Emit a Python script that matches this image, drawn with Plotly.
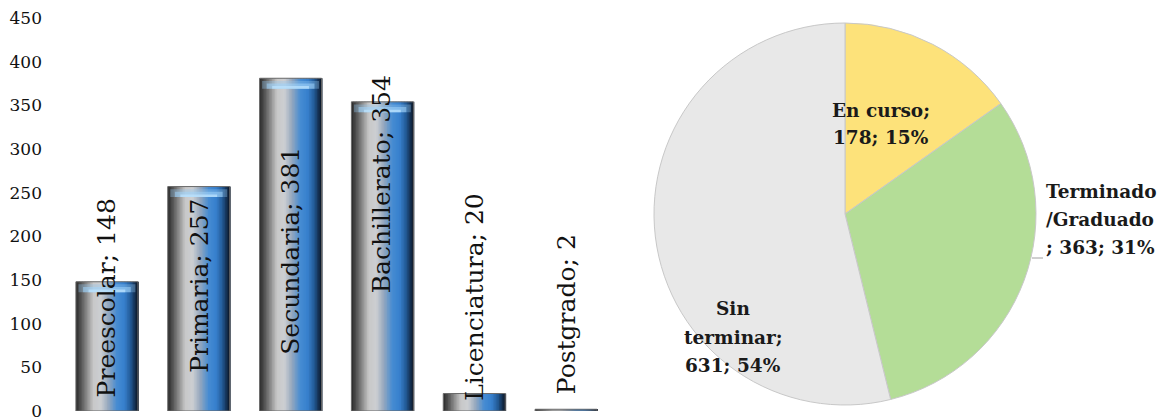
import plotly.graph_objects as go

# ---- data ----
niveles = ["Preescolar", "Primaria", "Secundaria", "Bachillerato", "Licenciatura", "Postgrado"]
alumnos = [148, 257, 381, 354, 20, 2]

estado = ["En curso", "Terminado/Graduado", "Sin terminar"]
estado_n = [178, 363, 631]

y_ticks = [0, 50, 100, 150, 200, 250, 300, 350, 400, 450]

# ---- layout helpers (figure is 1159 x 420, plot area rows 18..411) ----
W, H = 1159, 420
TOP, BOT = 18, 411


def px_x(x):
    return x / W


def px_y(y):
    return (BOT - y) / (BOT - TOP)


SERIF = "DejaVu Serif"

fig = go.Figure()

# ---- glossy bars: horizontal colour ramp built from narrow stripes ----
stops = [(0.00, (40, 40, 40)), (0.10, (95, 95, 95)), (0.28, (200, 200, 200)),
         (0.40, (205, 207, 210)), (0.52, (150, 168, 190)), (0.66, (70, 140, 210)),
         (0.78, (55, 128, 205)), (0.88, (35, 90, 150)), (1.00, (10, 20, 35))]


def ramp_color(t):
    for (t0, c0), (t1, c1) in zip(stops[:-1], stops[1:]):
        if t0 <= t <= t1:
            f = (t - t0) / (t1 - t0)
            r, g, b = (round(a + (b_ - a) * f) for a, b_ in zip(c0, c1))
            return f"rgb({r},{g},{b})"
    return "rgb(10,20,35)"


n_stripes = 40
bar_w = 0.675
sw = bar_w / n_stripes
for i in range(n_stripes):
    fig.add_trace(go.Bar(
        x=niveles, y=alumnos, width=sw * 1.6, offset=-bar_w / 2 + i * sw,
        marker=dict(color=ramp_color((i + 0.5) / n_stripes), line=dict(width=0)),
        hoverinfo="skip", showlegend=False))

# soft top bevel on the taller bars
for hgt, wid, col in [(9, 0.62, "rgba(150,200,240,0.35)"),
                      (6, 0.52, "rgba(160,212,250,0.55)"),
                      (3, 0.40, "rgba(190,228,255,0.7)")]:
    fig.add_trace(go.Bar(
        x=niveles,
        y=[hgt if v > 40 else None for v in alumnos],
        base=[v - 12 if v > 40 else None for v in alumnos],
        width=wid, offset=-wid / 2,
        marker=dict(color=col, line=dict(width=0)),
        hoverinfo="skip", showlegend=False))

# bar outline
fig.add_trace(go.Bar(
    x=niveles, y=alumnos, width=bar_w, offset=-bar_w / 2,
    marker=dict(color="rgba(0,0,0,0)", line=dict(color="#6a6a6a", width=1)),
    hovertemplate="%{x}: %{y}<extra></extra>", showlegend=False))

# vertical value labels (centre heights along the value axis)
label_mid = [130, 143, 183, 260, 131, 111]
for n, v, ym in zip(niveles, alumnos, label_mid):
    fig.add_annotation(x=n, y=ym, xref="x", yref="y", text=f"{n}; {v}",
                       textangle=-90, showarrow=False,
                       font=dict(family=SERIF, size=25, color="#111"))

# ---- pie ----
pie_colors = ["#fde27a", "#b4dd97", "#e8e8e8"]
fig.add_trace(go.Pie(
    labels=estado, values=estado_n, sort=False, direction="clockwise",
    rotation=0, textinfo="none", hole=0,
    marker=dict(colors=pie_colors, line=dict(color="#c8c8c8", width=1)),
    domain=dict(x=[px_x(654), px_x(1036)], y=[px_y(405), px_y(23)]),
    showlegend=False, hovertemplate="%{label}: %{value}<extra></extra>"))

total = sum(estado_n)
pct = [round(100 * v / total) for v in estado_n]
lines = {
    0: [f"{estado[0]};", f"{estado_n[0]}; {pct[0]}%"],
    1: [estado[1].split("/")[0], "/" + estado[1].split("/")[1], f"; {estado_n[1]}; {pct[1]}%"],
    2: [estado[2].split(" ")[0], estado[2].split(" ")[1] + ";", f"{estado_n[2]}; {pct[2]}%"],
}
# anchor (px) and line rows for each slice label
anchors = {
    0: (881, [110, 137], "center"),
    1: (1044, [192, 219, 247], "left"),
    2: (733, [308, 337, 365], "center"),
}
for k, txts in lines.items():
    ax, rows, xa = anchors[k]
    for t, ry in zip(txts, rows):
        fig.add_annotation(x=px_x(ax), y=px_y(ry), xref="paper", yref="paper",
                           text=f"<b>{t}</b>", showarrow=False, xanchor=xa, yanchor="middle",
                           font=dict(family=SERIF, size=18.5, color="#1a1a1a"))

fig.add_shape(type="line", xref="paper", yref="paper",
              x0=px_x(1032), x1=px_x(1043), y0=px_y(258), y1=px_y(258),
              line=dict(color="#a0a0a0", width=1))

fig.update_layout(
    width=W, height=H,
    margin=dict(l=0, r=0, t=TOP, b=H - BOT),
    paper_bgcolor="white", plot_bgcolor="white",
    barmode="overlay",
    xaxis=dict(domain=[px_x(61), px_x(612)], showticklabels=False, showgrid=False,
               zeroline=False, showline=False, ticks="", automargin=False),
    yaxis=dict(range=[0, 450], tickvals=y_ticks, showgrid=False, zeroline=False,
               showline=False, ticks="", automargin=False, ticklabelstandoff=18,
               ticklabeloverflow="allow",
               tickfont=dict(family=SERIF, size=17, color="#111")),
    font=dict(family=SERIF),
)

fig.write_html("out.html")
